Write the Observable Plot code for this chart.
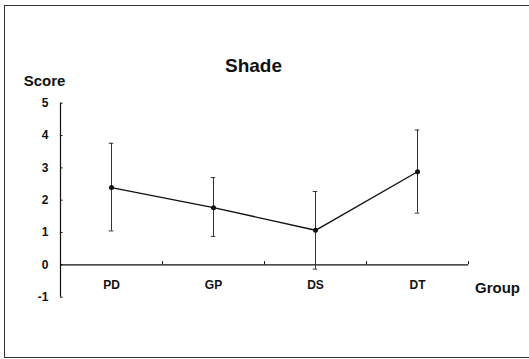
<!DOCTYPE html>
<html>
<head>
<meta charset="utf-8">
<script src="https://cdn.jsdelivr.net/npm/d3@7"></script>
<script src="https://cdn.jsdelivr.net/npm/@observablehq/plot@0.6"></script>
<style>
  html, body { margin: 0; padding: 0; background: #fff; }
  #wrap { position: relative; width: 529px; height: 359px; overflow: hidden; }
  #frame { position: absolute; left: 4px; top: 5px; width: 540px; height: 351px;
           border-top: 1px solid #333; border-left: 1px solid #333; border-bottom: 1px solid #333; }
  #chart { position: absolute; left: 0; top: 0; }
</style>
</head>
<body>
<div id="wrap"><div id="frame"></div><div id="chart"></div></div>
<script>
const groups = ["PD", "GP", "DS", "DT"];
const means  = [2.39, 1.77, 1.07, 2.88];
const upper  = [3.76, 2.70, 2.27, 4.17];
const lower  = [1.05, 0.88, -0.13, 1.60];
const yTicks = [-1, 0, 1, 2, 3, 4, 5];
const xBoundaries = [1, 2, 3, 4];

const data = groups.map((g, i) => ({group: g, x: i + 0.5, mean: means[i], hi: upper[i], lo: lower[i]}));
const font = "'Liberation Sans', Arial, sans-serif";
const ink = "#111";

const chart = Plot.plot({
  width: 529,
  height: 359,
  marginLeft: 60,
  marginRight: 61,
  marginTop: 102.7,
  marginBottom: 62.3,
  style: {fontFamily: font, background: "transparent"},
  x: {domain: [0, 4], axis: null},
  y: {domain: [-1, 5], axis: null},
  marks: [
    // axes lines
    Plot.ruleX([0], {y1: -1, y2: 5, stroke: ink, strokeWidth: 1.2}),
    Plot.ruleY([0], {x1: 0, x2: 4, stroke: ink, strokeWidth: 1.2}),
    // y ticks pointing inward
    Plot.ruleY(yTicks, {y: d => d, x1: 0, x2: 0.025, stroke: ink}),
    // x boundary ticks pointing up
    Plot.ruleX(xBoundaries, {x: d => d, y1: 0, y2: 0.1, stroke: ink}),
    // y tick labels
    Plot.text(yTicks, {x: 0, y: d => d, text: d => String(d), textAnchor: "end", dx: -12,
      fontWeight: "bold", fontSize: 12, fill: ink}),
    // category labels
    Plot.text(data, {x: "x", y: 0, text: "group", dy: 20, fontWeight: "bold", fontSize: 12, fill: ink}),
    // error bars
    Plot.ruleX(data, {x: "x", y1: "lo", y2: "hi", stroke: "#333", strokeWidth: 1}),
    Plot.ruleY(data, {y: "hi", x1: d => d.x - 0.022, x2: d => d.x + 0.022, stroke: "#333"}),
    Plot.ruleY(data, {y: "lo", x1: d => d.x - 0.022, x2: d => d.x + 0.022, stroke: "#333"}),
    // mean line and points
    Plot.line(data, {x: "x", y: "mean", stroke: ink, strokeWidth: 1.4}),
    Plot.dot(data, {x: "x", y: "mean", r: 2.5, fill: ink, stroke: "none"}),
    // titles
    Plot.text(["Shade"], {text: d => d, frameAnchor: "top-left", textAnchor: "middle", lineAnchor: "middle",
      dx: 193, dy: -37, fontWeight: "bold", fontSize: 19, fill: ink}),
    Plot.text(["Score"], {text: d => d, frameAnchor: "top-left", textAnchor: "middle", lineAnchor: "middle",
      dx: -16, dy: -22, fontWeight: "bold", fontSize: 15, fill: ink}),
    Plot.text(["Group"], {text: d => d, frameAnchor: "bottom-right", textAnchor: "middle", lineAnchor: "middle",
      dx: 29, dy: -8.7, fontWeight: "bold", fontSize: 15, fill: ink})
  ]
});
document.getElementById("chart").appendChild(chart);
</script>
</body>
</html>
